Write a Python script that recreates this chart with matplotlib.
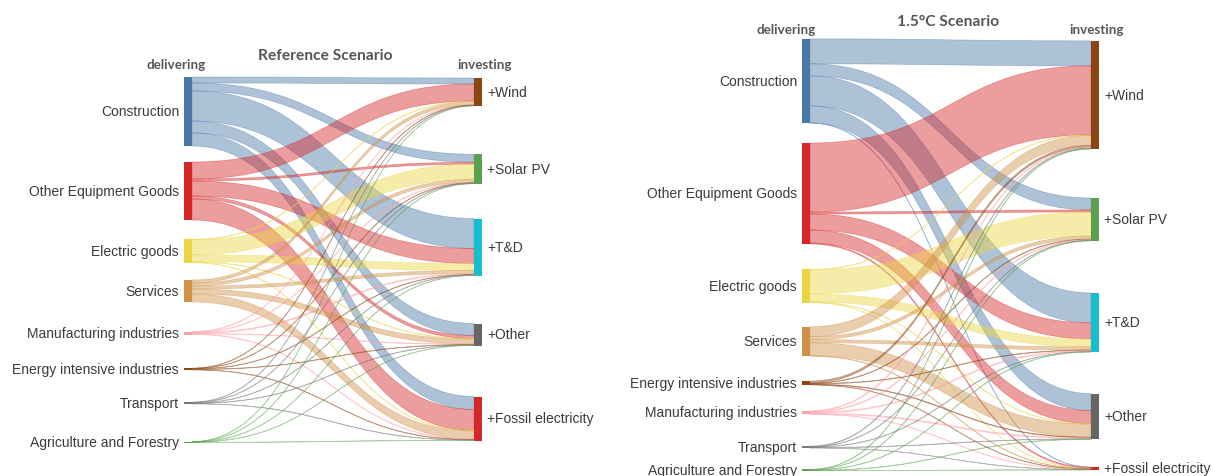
# Two sankey panels: delivering sectors -> investing technologies
import numpy as np
import matplotlib.pyplot as plt
from matplotlib.path import Path
from matplotlib.patches import PathPatch, Rectangle
from matplotlib.colors import to_rgba

sources_ref = ["Construction", "Other Equipment Goods", "Electric goods", "Services",
               "Manufacturing industries", "Energy intensive industries", "Transport",
               "Agriculture and Forestry"]
sources_15 = ["Construction", "Other Equipment Goods", "Electric goods", "Services",
              "Energy intensive industries", "Manufacturing industries", "Transport",
              "Agriculture and Forestry"]
targets = ["+Wind", "+Solar PV", "+T&D", "+Other", "+Fossil electricity"]

# flows[source][target] (arbitrary units)
flows_ref = [
    [6, 8, 30, 12, 13],
    [17, 2, 15, 3, 21],
    [0.5, 15, 7, 0.5, 0.5],
    [3, 3, 3, 5, 8],
    [0.5, 0.5, 1, 0.5, 0.5],
    [0.4, 0.4, 0.4, 0.4, 0.4],
    [0.4, 0.4, 0.4, 0.4, 0.4],
    [0.2, 0.2, 0.2, 0.2, 0.2],
]
flows_15 = [
    [25, 12, 30, 17, 0.3],
    [69, 2, 16, 13, 1],
    [0.5, 24, 8, 0.5, 0.2],
    [10, 3, 3, 13, 0.5],
    [2, 0.5, 0.5, 0.7, 0.3],
    [0.8, 0.8, 1, 1, 0.3],
    [0.6, 0.4, 0.4, 0.4, 0.2],
    [0.4, 0.3, 0.3, 0.3, 0.2],
]

colors = {
    "Construction": "#4a78a8",
    "Other Equipment Goods": "#d62728",
    "Electric goods": "#ecd544",
    "Services": "#d0924a",
    "Manufacturing industries": "#ff9da7",
    "Energy intensive industries": "#8b4513",
    "Transport": "#777777",
    "Agriculture and Forestry": "#59a14f",
    "+Wind": "#8b4513",
    "+Solar PV": "#59a14f",
    "+T&D": "#17becf",
    "+Other": "#666666",
    "+Fossil electricity": "#d62728",
}

# layout (pixels): node x, node centres, header positions
panels = [
    dict(sources=sources_ref, flows=flows_ref, xs=184, xt=474,
         src_c=[112.5, 192, 252, 292, 334, 370, 404, 443],
         tgt_c=[93, 170, 248, 335.5, 419.5],
         title="Reference Scenario", title_xy=(325, 56),
         deliv_xy=(176, 65), inv_xy=(485, 65)),
    dict(sources=sources_15, flows=flows_15, xs=802, xt=1091,
         src_c=[82, 194.5, 287, 342.5, 384, 413.5, 448, 471],
         tgt_c=[96, 220.5, 323.5, 417.5, 469.5],
         title="1.5°C Scenario", title_xy=(948, 22),
         deliv_xy=(786, 30), inv_xy=(1097, 30)),
]
node_w = 8

fig = plt.figure(figsize=(12.13, 4.77), dpi=100)
ax = fig.add_axes([0, 0, 1, 1])
ax.set_xlim(0, 1213)
ax.set_ylim(477, 0)
ax.axis("off")

lab_font = dict(family="Liberation Sans", fontsize=10, color="#3a3a3a")
head_font = dict(family="Lato", fontweight="bold", color="#555555")


def band(x0, y0a, y0b, x1, y1a, y1b):
    xm = (x0 + x1) / 2
    verts = [(x0, y0a), (xm, y0a), (xm, y1a), (x1, y1a),
             (x1, y1b), (xm, y1b), (xm, y0b), (x0, y0b), (x0, y0a)]
    codes = [Path.MOVETO, Path.CURVE4, Path.CURVE4, Path.CURVE4,
             Path.LINETO, Path.CURVE4, Path.CURVE4, Path.CURVE4, Path.CLOSEPOLY]
    return Path(verts, codes)


for p in panels:
    f = np.array(p["flows"], dtype=float)
    src_h = f.sum(axis=1)
    tgt_h = f.sum(axis=0)
    src_top = np.array(p["src_c"]) - src_h / 2
    tgt_top = np.array(p["tgt_c"]) - tgt_h / 2

    # offsets of each link inside its nodes
    s_off = src_top[:, None] + np.cumsum(f, axis=1) - f
    t_off = tgt_top[None, :] + np.cumsum(f, axis=0) - f

    x0 = p["xs"] + node_w
    x1 = p["xt"]
    for i, s in enumerate(p["sources"]):
        c = to_rgba(colors[s], 0.45)
        for j in range(len(targets)):
            v = f[i, j]
            path = band(x0, s_off[i, j], s_off[i, j] + v, x1, t_off[i, j], t_off[i, j] + v)
            ax.add_patch(PathPatch(path, facecolor=c, edgecolor=c, lw=0.5))

    for i, s in enumerate(p["sources"]):
        ax.add_patch(Rectangle((p["xs"], src_top[i]), node_w, max(src_h[i], 1.5),
                               facecolor=colors[s], edgecolor="none"))
        ax.text(p["xs"] - 5, p["src_c"][i], s, ha="right", va="center", **lab_font)
    for j, t in enumerate(targets):
        ax.add_patch(Rectangle((p["xt"], tgt_top[j]), node_w, max(tgt_h[j], 1.5),
                               facecolor=colors[t], edgecolor="none"))
        ax.text(p["xt"] + node_w + 5, p["tgt_c"][j], t, ha="left", va="center", **lab_font)

    ax.text(*p["title_xy"], p["title"], ha="center", va="center", fontsize=11.2, **head_font)
    ax.text(*p["deliv_xy"], "delivering", ha="center", va="center", fontsize=9.6, **head_font)
    ax.text(*p["inv_xy"], "investing", ha="center", va="center", fontsize=9.6, **head_font)

fig.savefig("out.png", dpi=100)
